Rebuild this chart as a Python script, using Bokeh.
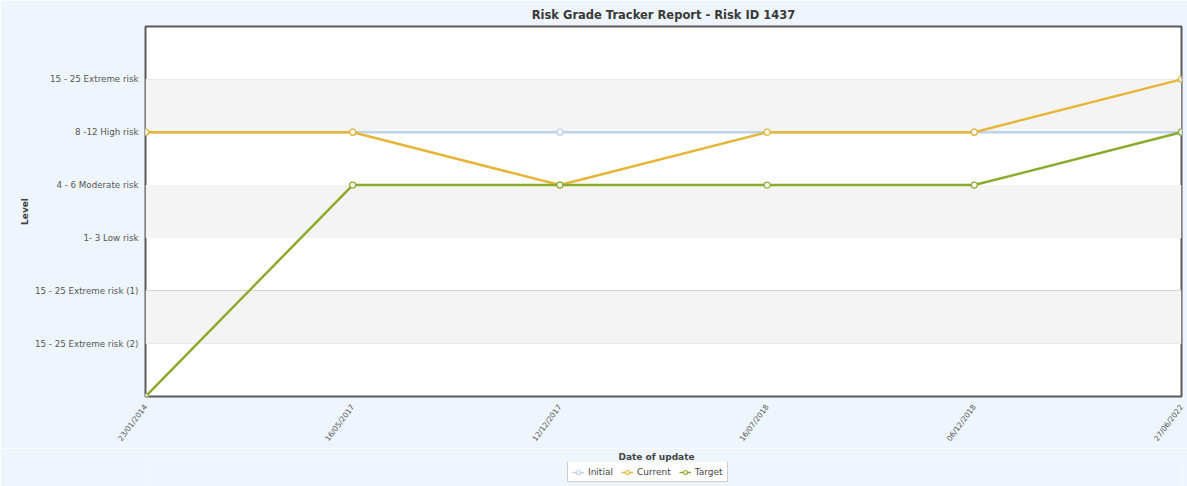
import math
from bokeh.plotting import figure
from bokeh.layouts import column
from bokeh.models import (FixedTicker, BoxAnnotation, Legend, LegendItem, Range1d)
from bokeh.embed import file_html
from bokeh.resources import INLINE

# ---- data ----
dates = ["23/01/2014", "16/05/2017", "12/12/2017", "16/07/2018", "06/12/2018", "27/06/2022"]
level_labels = ["", "15 - 25 Extreme risk (2)", "15 - 25 Extreme risk (1)", "1- 3 Low risk",
                "4 - 6 Moderate risk", "8 -12 High risk", "15 - 25 Extreme risk"]
initial = [5, 5, 5, 5, 5, 5]
current = [5, 5, 4, 5, 5, 6]
target = [0, 4, 4, 4, 4, 5]

series = [("Initial", initial, "#bed2e8"),
          ("Current", current, "#e6b63a"),
          ("Target", target, "#8cab2c")]

FONT = "DejaVu Sans"
BG = "#eef5fc"
xs = list(range(len(dates)))

p = figure(width=1187, height=448, output_backend="svg", toolbar_location=None,
           x_range=Range1d(0, len(dates) - 1), y_range=Range1d(0, 7),
           min_border_left=145, min_border_right=6, min_border_top=25, min_border_bottom=10)

p.background_fill_color = "white"
p.border_fill_color = BG
p.outline_line_color = "#5a5a5a"
p.outline_line_width = 2

# title
p.title.text = "Risk Grade Tracker Report - Risk ID 1437"
p.title.align = "center"
p.title.text_font = FONT
p.title.text_font_size = "11.5px"
p.title.text_font_style = "bold"
p.title.text_color = "#3a3a3a"
p.title.offset = 0
p.title.standoff = 10

# alternating bands
for lo in (1, 3, 5):
    p.add_layout(BoxAnnotation(bottom=lo, top=lo + 1, fill_color="#f4f4f4", fill_alpha=1,
                               line_alpha=0, level="underlay"))

# axes
p.xaxis.ticker = FixedTicker(ticks=xs)
p.xaxis.major_label_overrides = {i: d for i, d in enumerate(dates)}
p.xaxis.major_label_orientation = 0.93
p.yaxis.ticker = FixedTicker(ticks=list(range(1, 7)))
p.yaxis.major_label_overrides = {i: l for i, l in enumerate(level_labels)}

for ax in (p.xaxis[0], p.yaxis[0]):
    ax.axis_line_color = None
    ax.major_tick_line_color = None
    ax.minor_tick_line_color = None
    ax.major_label_text_font = FONT
    ax.major_label_text_color = "#555555"
    ax.axis_label_text_font = FONT
    ax.axis_label_text_font_style = "bold"
    ax.axis_label_text_color = "#444444"
    ax.axis_label_text_font_size = "9px"

p.yaxis.major_label_standoff = 1
p.xaxis.major_label_standoff = 3
p.yaxis.major_label_text_font_size = "8.7px"
p.xaxis.major_label_text_font_size = "7.5px"
p.yaxis.axis_label = "Level"
p.yaxis.axis_label_standoff = 2

p.xgrid.grid_line_color = None
p.ygrid.grid_line_color = "#c8c8c8"
p.ygrid.grid_line_width = 1

for name, vals, col in series:
    p.line(xs, vals, line_color=col, line_width=2.5)
    p.scatter(xs, vals, size=6, marker="circle", fill_color="white", line_color=col, line_width=1.2)

# strip below the chart: x-axis title and legend
lg = figure(width=1187, height=38, output_backend="svg", toolbar_location=None,
            x_range=Range1d(-20, -19), y_range=Range1d(-20, -19),
            min_border=0, outline_line_color=None)
lg.axis.visible = False
lg.grid.visible = False
lg.background_fill_color = BG
lg.border_fill_color = BG
lg.title.text = "Date of update"
lg.title.align = "left"
lg.title.offset = 473
lg.title.text_font = FONT
lg.title.text_font_size = "9px"
lg.title.text_font_style = "bold"
lg.title.text_color = "#444444"
lg.title.standoff = 2

items = []
for name, vals, col in series:
    ln = lg.line(xs, vals, line_color=col, line_width=1.5)
    r = lg.scatter(xs, vals, size=6, marker="circle", fill_color="white", line_color=col, line_width=1.2)
    items.append(LegendItem(label=name, renderers=[ln, r]))

legend = Legend(items=items, orientation="horizontal", location=(422, 4),
                label_text_font=FONT, label_text_font_size="9px", label_text_color="#444444",
                border_line_color="#999999", border_line_width=1, background_fill_color="white",
                padding=4, spacing=8, label_standoff=4, glyph_width=12, glyph_height=10,
                margin=0, label_height=11)
lg.add_layout(legend, "center")

layout = column(p, lg, spacing=0)

with open("out.html", "w") as f:
    f.write(file_html(layout, INLINE))
